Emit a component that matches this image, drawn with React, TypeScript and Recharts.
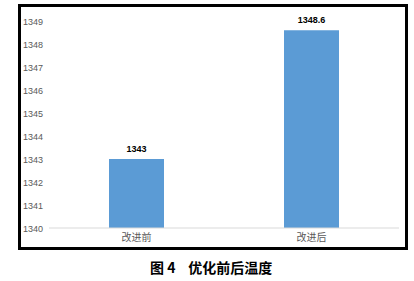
import { BarChart, Bar, XAxis, YAxis, LabelList } from 'recharts'

const categories = ['改进前', '改进后']
const temperatures = [1343, 1348.6]
const yTicks = [1340, 1341, 1342, 1343, 1344, 1345, 1346, 1347, 1348, 1349]
const titleNumber = '图 4'
const titleText = '优化前后温度'

const data = categories.map((name, i) => ({ name, value: temperatures[i] }))

const font = '"Liberation Sans", Arial, sans-serif'

// y labels in the original are left aligned against the frame
function YTick(props: any) {
  const { y, payload } = props
  return (
    <text x={23} y={y} dy={3.5} textAnchor="start" fontSize={9} fill="#595959" fontFamily={font}>
      {payload.value}
    </text>
  )
}

export default function App() {
  return (
    <div style={{ position: 'absolute', left: 0, top: 0, width: 414, height: 281, background: '#fff' }}>
      <div
        style={{
          position: 'absolute',
          left: 18,
          top: 4,
          width: 384,
          height: 240,
          border: '3px solid #000',
        }}
      />
      <div style={{ position: 'absolute', left: 0, top: 0 }}>
        <BarChart width={414} height={250} data={data} margin={{ top: 21, right: 15, left: 0, bottom: 0 }}>
          <XAxis
            dataKey="name"
            height={22}
            axisLine={{ stroke: '#d9d9d9' }}
            tickLine={false}
            tick={{ fontSize: 10, fill: '#595959', fontFamily: '"Noto Sans CJK SC", sans-serif' }}
            dy={-2}
          />
          <YAxis
            width={49}
            domain={[1340, 1349]}
            ticks={yTicks}
            axisLine={false}
            tickLine={false}
            tick={<YTick />}
            interval={0}
          />
          <Bar dataKey="value" fill="#5b9bd5" barSize={55} isAnimationActive={false}>
            <LabelList
              dataKey="value"
              position="top"
              offset={7}
              fontSize={9}
              fontWeight="bold"
              fill="#000"
              fontFamily={font}
            />
          </Bar>
        </BarChart>
      </div>
      <div
        style={{
          position: 'absolute',
          left: 150,
          top: 258,
          fontSize: 14,
          fontWeight: 'bold',
          fontFamily: '"Noto Sans CJK SC", serif',
          color: '#000',
          whiteSpace: 'pre',
          lineHeight: '18px',
        }}
      >
        {titleNumber + '    ' + titleText}
      </div>
    </div>
  )
}
